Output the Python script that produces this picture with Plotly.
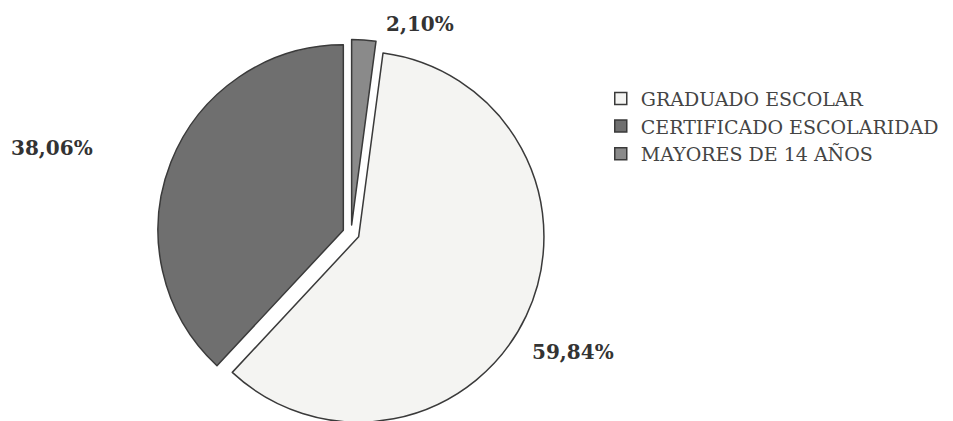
import plotly.graph_objects as go

labels = ["GRADUADO ESCOLAR", "CERTIFICADO ESCOLARIDAD", "MAYORES DE 14 AÑOS"]
values = [59.84, 38.06, 2.10]
text_labels = ["59,84%", "38,06%", "2,10%"]
label_x = [0.593, 0.046, 0.432]
label_y = [0.182, 0.667, 0.962]
colors = ["#f4f4f2", "#6f6f6f", "#8a8a8a"]

fig = go.Figure(go.Pie(
    labels=labels,
    values=values,
    textinfo="none",
    marker=dict(colors=colors, line=dict(color="#3a3a3a", width=1.5)),
    sort=False,
    direction="clockwise",
    rotation=7.56,
    pull=[0.045, 0.045, 0.045],
    domain=dict(x=[0.11, 0.61], y=[0.005, 0.925]),
    hoverinfo="label+percent",
))

for t, x, y in zip(text_labels, label_x, label_y):
    fig.add_annotation(
        text=t, x=x, y=y, xref="paper", yref="paper",
        showarrow=False, xanchor="center", yanchor="middle",
        font=dict(family="DejaVu Serif", size=20, color="#333333", weight="bold"),
    )

fig.update_layout(
    width=953, height=421,
    margin=dict(l=0, r=0, t=0, b=0),
    paper_bgcolor="white",
    plot_bgcolor="white",
    showlegend=True,
    legend=dict(
        x=0.622, y=0.83, xanchor="left", yanchor="top",
        font=dict(family="DejaVu Serif", size=19, color="#444444"),
        itemwidth=30, tracegroupgap=0,
    ),
)

fig.write_html("out.html")
